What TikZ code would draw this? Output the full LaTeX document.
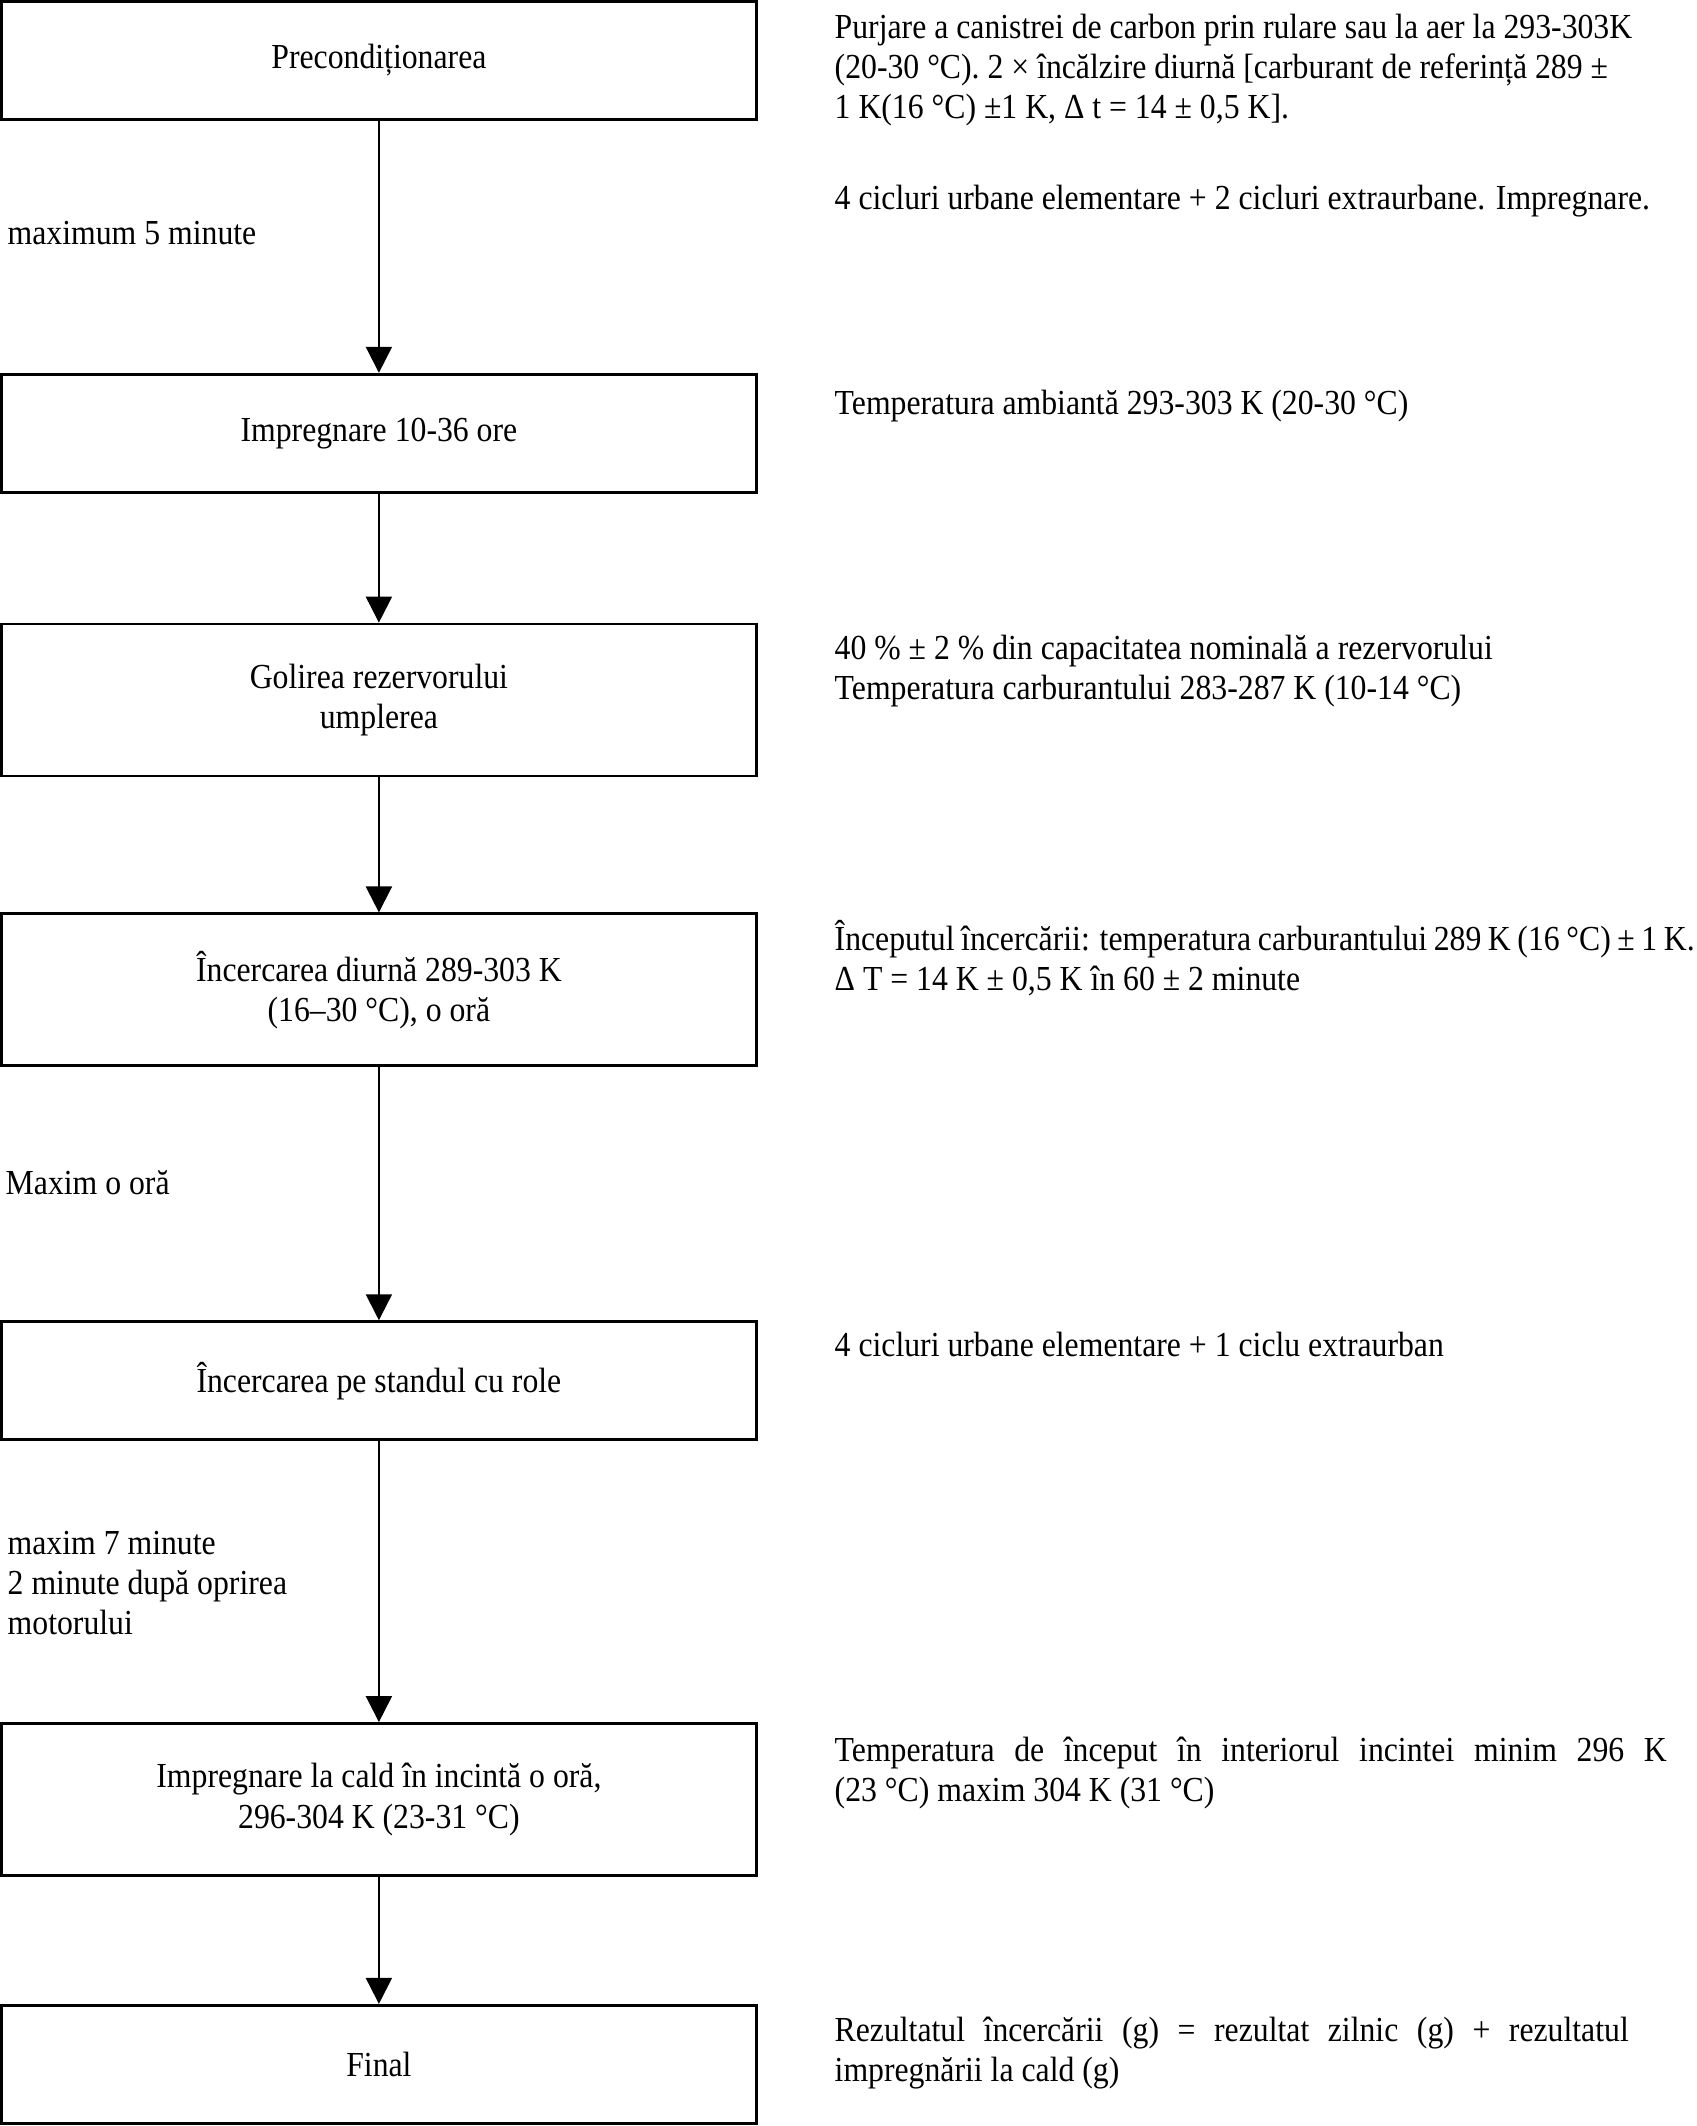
\documentclass[tikz,border=0pt]{standalone}
\usepackage{fontspec}
\setmainfont{Liberation Serif}[FakeStretch=0.903]
\usetikzlibrary{arrows.meta,positioning}

\begin{document}
\begin{tikzpicture}[node distance=13mm,>={Triangle[width=2.6mm,length=2.6mm]},
  box/.style={draw,line width=0.8pt,minimum width=75.5mm,minimum height=11.8mm,align=center,inner sep=2pt,font=\fontsize{10}{11.4}\selectfont},
  tall/.style={minimum height=15.2mm},
  note/.style={anchor=north west,inner sep=0pt,align=left,font=\fontsize{10}{11.4}\selectfont},
  arrow/.style={->,line width=0.6pt}]
  \path[use as bounding box] (0,0) rectangle (169.7mm,-212.6mm);
  % steps
  \node[box,anchor=north west] (b1) at (0,0) {Precondiționarea};
  \node[box,below=25.2mm of b1] (b2) {Impregnare 10-36 ore};
  \node[box,tall,below=12.9mm of b2] (b3) {Golirea rezervorului\\umplerea};
  \node[box,tall,below=13.5mm of b3] (b4) {Încercarea diurnă 289-303 K\\(16--30 °C), o oră};
  \node[box,below=25.3mm of b4] (b5) {Încercarea pe standul cu role};
  \node[box,tall,below=28.1mm of b5] (b6) {Impregnare la cald în incintă o oră,\\296-304 K (23-31 °C)};
  \node[box,below=12.7mm of b6] (b7) {Final};
  \draw[arrow] (b1)--(b2);
  \draw[arrow] (b2)--(b3);
  \draw[arrow] (b3)--(b4);
  \draw[arrow] (b4)--(b5);
  \draw[arrow] (b5)--(b6);
  \draw[arrow] (b6)--(b7);
  % timings
  \node[note] (t1) at (0.7mm,-21.6mm) {\strut maximum 5 minute};
  \node[note] (t2) at (0.5mm,-116.6mm) {\strut Maxim o oră};
  \node[note] (t3) at (0.7mm,-152.6mm) {\strut maxim 7 minute\\\strut 2 minute după oprirea\\\strut motorului};
  % conditions
  \node[note] (r1) at (83.4mm,-1.0mm) {\strut Purjare a canistrei de carbon prin rulare sau la aer la 293-303K\\\strut(20-30 °C). 2 × încălzire diurnă [carburant de referință 289 ±\\\strut 1 K(16 °C) ±1 K, Δ t = 14 ± 0,5 K].};
  \node[note] (r1b) at (83.4mm,-18.1mm) {\strut 4 cicluri urbane elementare + 2 cicluri extraurbane. Impregnare.};
  \node[note] (r2) at (83.4mm,-38.6mm) {\strut Temperatura ambiantă 293-303 K (20-30 °C)};
  \node[note] (r3) at (83.4mm,-63.1mm) {\strut 40 \% ± 2 \% din capacitatea nominală a rezervorului\\\strut Temperatura carburantului 283-287 K (10-14 °C)};
  \node[note] (r4) at (83.4mm,-92.0mm) {\strut\makebox[86.0mm][s]{Începutul încercării: temperatura carburantului 289 K (16 °C) ± 1 K.}\\\strut Δ T = 14 K ± 0,5 K în 60 ± 2 minute};
  \node[note] (r5) at (83.4mm,-132.8mm) {\strut 4 cicluri urbane elementare + 1 ciclu extraurban};
  \node[note] (r6) at (83.4mm,-173.3mm) {\strut\makebox[83.2mm][s]{Temperatura de început în interiorul incintei minim 296 K}\\\strut(23 °C) maxim 304 K (31 °C)};
  \node[note] (r7) at (83.4mm,-201.3mm) {\strut\makebox[79.4mm][s]{Rezultatul încercării (g) = rezultat zilnic (g) + rezultatul}\\\strut impregnării la cald (g)};
\end{tikzpicture}
\end{document}
